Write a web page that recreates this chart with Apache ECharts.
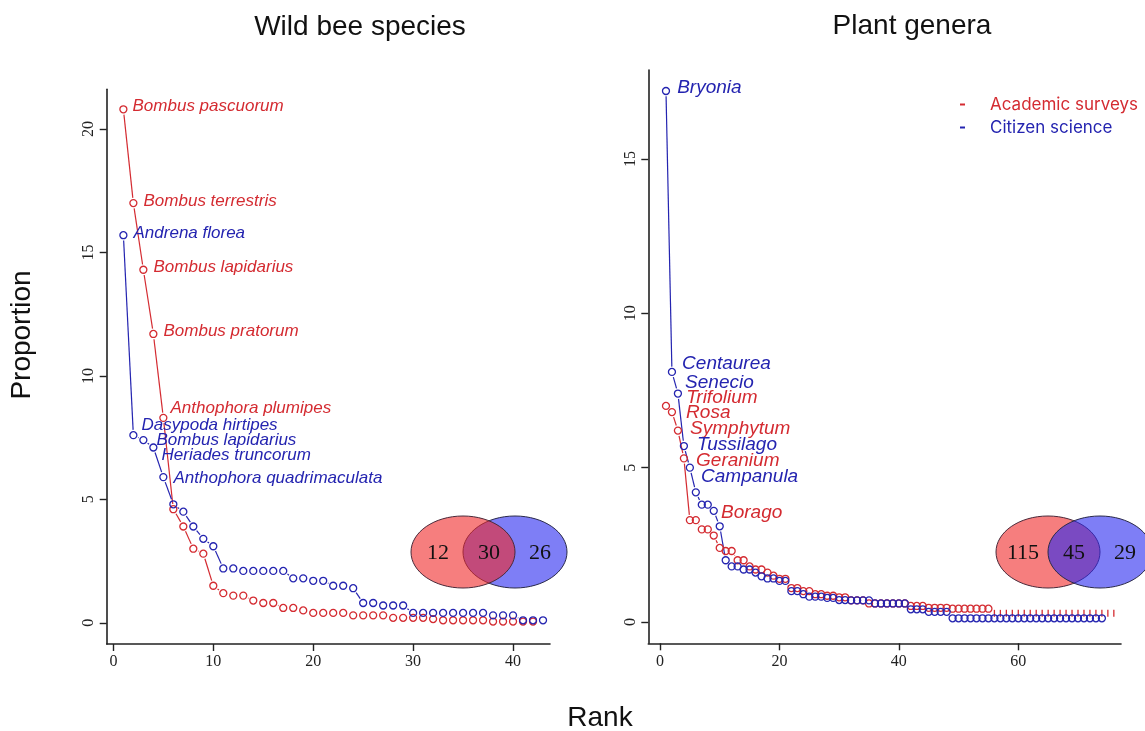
<!DOCTYPE html>
<html>
<head>
<meta charset="utf-8">
<script src="https://cdn.jsdelivr.net/npm/echarts@6/dist/echarts.min.js"></script>
<style>
  html, body { margin: 0; padding: 0; background: #fff; }
  #chart { width: 1145px; height: 731px; }
</style>
</head>
<body>
<div id="chart"></div>
<script>
// wild bee species, proportion by rank
var beeAcademic = [20.8, 17.0, 14.3, 11.7, 8.3, 4.6, 3.9, 3.0, 2.8, 1.5,
  1.2, 1.1, 1.1, 0.9, 0.8, 0.8, 0.6, 0.6, 0.5, 0.4,
  0.4, 0.4, 0.4, 0.3, 0.3, 0.3, 0.3, 0.2, 0.2, 0.2,
  0.2, 0.15, 0.1, 0.1, 0.1, 0.1, 0.1, 0.05, 0.05, 0.05, 0.05, 0.05];
var beeCitizen = [15.7, 7.6, 7.4, 7.1, 5.9, 4.8, 4.5, 3.9, 3.4, 3.1,
  2.2, 2.2, 2.1, 2.1, 2.1, 2.1, 2.1, 1.8, 1.8, 1.7,
  1.7, 1.5, 1.5, 1.4, 0.8, 0.8, 0.7, 0.7, 0.7, 0.4,
  0.4, 0.4, 0.4, 0.4, 0.4, 0.4, 0.4, 0.3, 0.3, 0.3, 0.1, 0.1, 0.1];
var beeAcademicNames = ["Bombus pascuorum", "Bombus terrestris", "Bombus lapidarius", "Bombus pratorum", "Anthophora plumipes"];
var beeCitizenNames = ["Andrena florea", "Dasypoda hirtipes", "Bombus lapidarius", "Heriades truncorum", "Anthophora quadrimaculata"];

// plant genera
var plantAcademic = [7.0, 6.8, 6.2, 5.3, 3.3, 3.3, 3.0, 3.0, 2.8, 2.4,
  2.3, 2.3, 2.0, 2.0, 1.8, 1.7, 1.7, 1.6, 1.5, 1.4,
  1.4, 1.1, 1.1, 1.0, 1.0, 0.9, 0.9, 0.85, 0.85, 0.8,
  0.8, 0.7, 0.7, 0.7, 0.6, 0.6, 0.6, 0.6, 0.6, 0.6,
  0.6, 0.52, 0.52, 0.52, 0.46, 0.46, 0.46, 0.46, 0.43, 0.43,
  0.43, 0.43, 0.43, 0.43, 0.43, 0.28, 0.28, 0.28, 0.28, 0.28,
  0.28, 0.28, 0.28, 0.28, 0.28, 0.28, 0.28, 0.28, 0.28, 0.28,
  0.28, 0.28, 0.28, 0.28, 0.28, 0.28];
var plantCitizen = [17.2, 8.1, 7.4, 5.7, 5.0, 4.2, 3.8, 3.8, 3.6, 3.1,
  2.0, 1.8, 1.8, 1.7, 1.7, 1.6, 1.48, 1.41, 1.41, 1.33,
  1.33, 1.0, 1.0, 0.9, 0.82, 0.82, 0.82, 0.78, 0.78, 0.71,
  0.71, 0.7, 0.7, 0.7, 0.7, 0.6, 0.6, 0.6, 0.6, 0.6,
  0.6, 0.41, 0.41, 0.41, 0.33, 0.33, 0.33, 0.33, 0.12, 0.12,
  0.12, 0.12, 0.12, 0.12, 0.12, 0.12, 0.12, 0.12, 0.12, 0.12,
  0.12, 0.12, 0.12, 0.12, 0.12, 0.12, 0.12, 0.12, 0.12, 0.12,
  0.12, 0.12, 0.12, 0.12];
var plantAcademicNames = ["Trifolium", "Rosa", "Symphytum", "Geranium", "Borago"];
var plantCitizenNames = ["Bryonia", "Centaurea", "Senecio", "Tussilago", "Campanula"];

// venn counts: academic only, shared, citizen only
var beeVenn = [12, 30, 26];
var plantVenn = [115, 45, 29];

var beeXTicks = [0, 10, 20, 30, 40];
var beeYTicks = [0, 5, 10, 15, 20];
var plantXTicks = [0, 20, 40, 60];
var plantYTicks = [0, 5, 10, 15];

var RED = "#d42b31", BLUE = "#2424b0";
var SANS = "Liberation Sans, Arial, sans-serif";
var SERIF = "Liberation Serif, Times New Roman, serif";

// label nudges (pixels) for the named points
var beeAcadOff = [[0, -3], [1, -2], [1, -2], [1, -3], [-2, -10]];
var beeCitOff = [[1, -2], [-1, -10], [4, 0], [-1, 8], [1, 1]];
var plantAcadOff = [[11, -8], [5, 1], [3, -2], [3, 2], [22, -7]];
var plantCitOff = [[2, -3], [1, -8], [-2, -11], [4, -1], [2, 9]];

function pts(vals, names, offs, color, size, tickFrom) {
  return vals.map(function (v, i) {
    var d = { value: [i + 1, v] };
    if (i < names.length) {
      d.label = {
        show: true, formatter: names[i], position: "right", distance: 5,
        offset: offs[i], color: color, fontStyle: "italic", fontSize: size, fontFamily: SANS
      };
    }
    if (tickFrom && i >= tickFrom) {
      d.symbol = "rect";
      d.symbolSize = [1.3, 7];
      d.itemStyle = { color: color, borderWidth: 0, opacity: 1 };
    }
    return d;
  });
}

// points drawn as open circles
function pointSeries(name, color, xi, data) {
  return {
    type: "scatter", name: name, xAxisIndex: xi, yAxisIndex: xi, data: data,
    symbol: "circle", symbolSize: 7, silent: true, z: 3,
    itemStyle: { color: "rgba(0,0,0,0)", borderColor: color, borderWidth: 1.3, opacity: 1 },
    emphasis: { disabled: true }
  };
}

// connecting segments with a gap round each point, like type = "b"
function gapSeries(vals, color, xi, gap) {
  var segs = [];
  for (var i = 0; i < vals.length - 1; i++) segs.push([i + 1, vals[i], i + 2, vals[i + 1]]);
  return {
    type: "custom", xAxisIndex: xi, yAxisIndex: xi, data: segs, silent: true, z: 2,
    encode: { x: [0, 2], y: [1, 3] },
    renderItem: function (params, api) {
      var a = api.coord([api.value(0), api.value(1)]),
          b = api.coord([api.value(2), api.value(3)]);
      var dx = b[0] - a[0], dy = b[1] - a[1], len = Math.sqrt(dx * dx + dy * dy);
      if (len <= 2 * gap) return null;
      var ux = dx / len, uy = dy / len;
      return {
        type: "line",
        shape: { x1: a[0] + ux * gap, y1: a[1] + uy * gap, x2: b[0] - ux * gap, y2: b[1] - uy * gap },
        style: { stroke: color, lineWidth: 1.2 }
      };
    }
  };
}

function xAx(gi, min, max, ticks) {
  return {
    type: "value", gridIndex: gi, min: min, max: max,
    axisLine: { show: true, onZero: false, lineStyle: { color: "#222", width: 1.6 } },
    axisTick: { show: true, length: 7, customValues: ticks, lineStyle: { color: "#222", width: 1.4 } },
    axisLabel: { customValues: ticks, margin: 10, color: "#222", fontFamily: SERIF, fontSize: 16 },
    splitLine: { show: false }
  };
}
function yAx(gi, min, max, ticks) {
  return {
    type: "value", gridIndex: gi, min: min, max: max,
    axisLine: { show: true, onZero: false, lineStyle: { color: "#222", width: 1.6 } },
    axisTick: { show: true, length: 7, customValues: ticks, lineStyle: { color: "#222", width: 1.4 } },
    axisLabel: { customValues: ticks, rotate: 90, margin: 10, color: "#222", fontFamily: SERIF, fontSize: 16 },
    splitLine: { show: false }
  };
}

function venn(cx, cy, counts, blueOnTop) {
  var rx = 52, ry = 36, gap = 52;
  var redE = { type: "ellipse", shape: { cx: cx, cy: cy, rx: rx, ry: ry }, z: blueOnTop ? 10 : 11,
    style: { fill: "rgba(240,40,40,0.6)", stroke: "#4a2a3a", lineWidth: 1 } };
  var blueE = { type: "ellipse", shape: { cx: cx + gap, cy: cy, rx: rx, ry: ry }, z: blueOnTop ? 11 : 10,
    style: { fill: "rgba(40,40,240,0.6)", stroke: "#2a2a4a", lineWidth: 1 } };
  var xs = [cx - 25, cx + gap / 2, cx + gap + 25];
  var txt = counts.map(function (c, i) {
    return { type: "text", x: xs[i], y: cy + 1, z: 12,
      style: { text: String(c), fill: "#111", font: "22px " + SERIF, textAlign: "center", textVerticalAlign: "middle" } };
  });
  return [redE, blueE].concat(txt);
}

var chart = echarts.init(document.getElementById("chart"));
chart.setOption({
  animation: false,
  backgroundColor: "#fff",
  grid: [
    { left: 106.7, top: 89.3, width: 443.3, height: 554.7 },
    { left: 648.3, top: 70, width: 472.7, height: 573.3 }
  ],
  xAxis: [xAx(0, -0.67, 43.7, beeXTicks), xAx(1, -1.96, 77.2, plantXTicks)],
  yAxis: [yAx(0, -0.86, 21.61, beeYTicks), yAx(1, -0.69, 17.88, plantYTicks)],
  legend: {
    orient: "vertical", left: 955, top: 91, itemGap: 6,
    icon: "rect", itemWidth: 5, itemHeight: 2,
    textStyle: { fontFamily: "Inter, Lato, sans-serif", fontSize: 17, padding: [0, 0, 0, 20] },
    data: [
      { name: "Academic surveys", itemStyle: { color: RED, borderWidth: 0 }, textStyle: { color: RED } },
      { name: "Citizen science", itemStyle: { color: BLUE, borderWidth: 0 }, textStyle: { color: BLUE } }
    ]
  },
  series: [
    gapSeries(beeAcademic, RED, 0, 5.3),
    gapSeries(beeCitizen, BLUE, 0, 5.3),
    gapSeries(plantAcademic, RED, 1, 5.3),
    gapSeries(plantCitizen, BLUE, 1, 5.3),
    pointSeries("Academic surveys", RED, 0, pts(beeAcademic, beeAcademicNames, beeAcadOff, RED, 17)),
    pointSeries("Citizen science", BLUE, 0, pts(beeCitizen, beeCitizenNames, beeCitOff, BLUE, 17)),
    pointSeries("Academic surveys", RED, 1, pts(plantAcademic, plantAcademicNames, plantAcadOff, RED, 19, 55)),
    pointSeries("Citizen science", BLUE, 1, pts(plantCitizen, plantCitizenNames, plantCitOff, BLUE, 19))
  ],
  graphic: [
    { type: "text", x: 360, y: 27, style: { text: "Wild bee species", fill: "#111", font: "28px " + SANS, textAlign: "center", textVerticalAlign: "middle" } },
    { type: "text", x: 912, y: 26, style: { text: "Plant genera", fill: "#111", font: "28px " + SANS, textAlign: "center", textVerticalAlign: "middle" } },
    { type: "text", x: 600, y: 718, style: { text: "Rank", fill: "#111", font: "28px " + SANS, textAlign: "center", textVerticalAlign: "middle" } },
    { type: "text", x: 22, y: 335, rotation: Math.PI / 2, style: { text: "Proportion", fill: "#111", font: "28px " + SANS, textAlign: "center", textVerticalAlign: "middle" } }
  ].concat(venn(463, 552, beeVenn, false), venn(1048, 552, plantVenn, true))
});
</script>
</body>
</html>
